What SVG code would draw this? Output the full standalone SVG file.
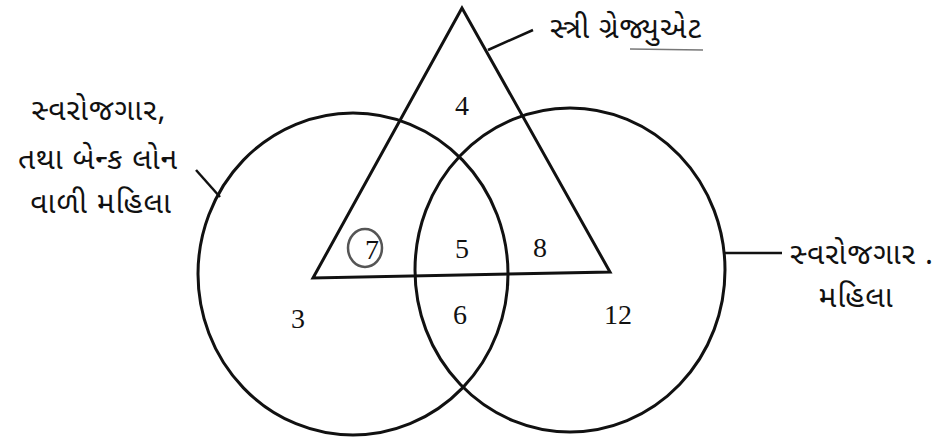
<svg xmlns="http://www.w3.org/2000/svg" width="942" height="444" viewBox="0 0 942 444">
<style>
.shape{fill:none;stroke:#111;stroke-width:3}
.lead{stroke:#111;stroke-width:2.5;fill:none}
.num{font-family:"Liberation Serif",serif;font-size:28px;fill:#111;text-anchor:middle}
.lbl{font-family:"Noto Sans Gujarati","Noto Sans","DejaVu Sans",sans-serif;font-size:30px;fill:#111;text-anchor:middle;letter-spacing:1px}
</style>
<rect width="942" height="444" fill="#fff"/>
<g id="circle-left"><ellipse class="shape" cx="353" cy="274" rx="155" ry="161"/></g>
<g id="circle-right"><ellipse class="shape" cx="570" cy="270" rx="155" ry="162"/></g>
<g id="triangle"><polygon class="shape" points="462,8 313,278 610,272"/></g>
<g id="connectors">
<line class="lead" x1="196" y1="170" x2="220" y2="197"/>
<line class="lead" x1="488" y1="50" x2="533" y2="30"/>
<line class="lead" x1="725" y1="253" x2="782" y2="253"/>
</g>
<g id="label-left">
<text class="lbl" x="99" y="120">સ્વરોજગાર,</text>
<text class="lbl" x="98" y="169">તથા બેન્ક લોન</text>
<text class="lbl" x="101" y="213">વાળી મહિલા</text>
</g>
<g id="label-top"><text class="lbl" x="626" y="38">સ્ત્રી ગ્રેજ્યુએટ</text>
<line x1="630" y1="49" x2="703" y2="50" stroke="#777" stroke-width="1.5"/></g>
<g id="label-right">
<text class="lbl" x="862" y="264">સ્વરોજગાર .</text>
<text class="lbl" x="856" y="307">મહિલા</text>
</g>
<g id="numbers">
<text class="num" x="462" y="115">4</text>
<ellipse cx="365" cy="248" rx="17" ry="19" fill="none" stroke="#555" stroke-width="2.5"/>
<text class="num" x="372" y="259">7</text>
<text class="num" x="462" y="258">5</text>
<text class="num" x="540" y="257">8</text>
<text class="num" x="298" y="328">3</text>
<text class="num" x="460" y="324">6</text>
<text class="num" x="618" y="324">12</text>
</g>
</svg>
